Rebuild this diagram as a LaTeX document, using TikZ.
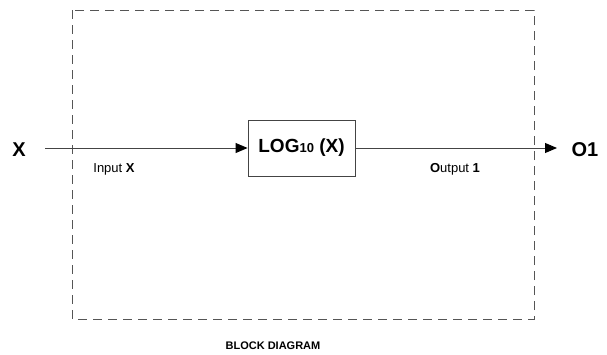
\documentclass[tikz,border=0pt]{standalone}
\usepackage{fontspec}
\setmainfont{Liberation Sans}
\usetikzlibrary{arrows.meta,positioning}
\definecolor{Frame}{HTML}{555555}
\definecolor{Wire}{HTML}{444444}

\begin{document}
\begin{tikzpicture}[x=1pt,y=-1pt,
    wire/.style={draw=Wire,line width=0.9pt,-{Triangle[length=12pt,width=10pt,black]}},
    blockbox/.style={draw=Wire,line width=0.9pt,minimum width=107pt,minimum height=56pt,inner sep=0pt},
    sig/.style={font=\fontsize{13}{13}\selectfont}]
    \useasboundingbox (0,0) rectangle (607,354);
    % dashed frame
    \draw[Frame,line width=0.9pt,dash pattern=on 9pt off 6pt] (72,10) rectangle (534,319);
    % block
    \node[blockbox] (log) at (301.5,148) {\fontsize{19}{19}\selectfont\bfseries LOG{\fontsize{13}{13}\selectfont 10} (X)};
    % terminals
    \node[font=\fontsize{20}{20}\selectfont\bfseries] (x) at (19,150) {X};
    \node[font=\fontsize{20}{20}\selectfont\bfseries] (o1) at (585,150) {O1};
    \coordinate (xin) at (45,148);
    \coordinate (oend) at (557,148);
    \draw[wire] (xin) -- (log.west);
    \draw[wire] (log.east) -- (oend);
    % labels
    \node[sig] (inlbl) at (114,169) {Input \textbf{X}};
    \node[sig] (outlbl) at (455,169) {\textbf{O}utput \textbf{1}};
    \node[font=\fontsize{11}{11}\selectfont\bfseries] (title) at (273,346) {BLOCK DIAGRAM};
\end{tikzpicture}
\end{document}
